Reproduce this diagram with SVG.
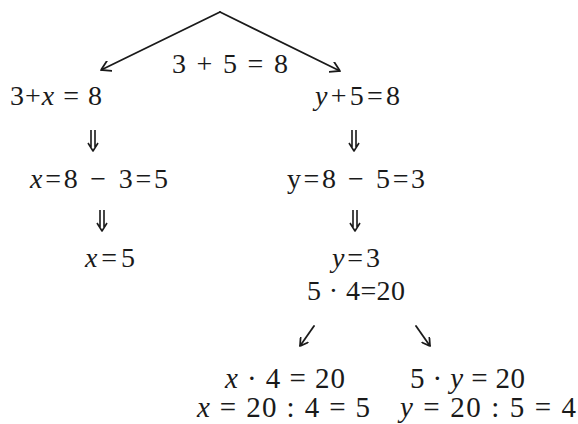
<svg xmlns="http://www.w3.org/2000/svg" xmlns:xlink="http://www.w3.org/1999/xlink" width="578" height="424" viewBox="0 0 578 424">
<style>
  text { font-family: 'Liberation Serif', 'DejaVu Serif', serif; font-size: 28px; fill: #1a1a1a; }
  .b { font-size: 29px; }
  .i { font-style: italic; }
  .ln { stroke: #1a1a1a; stroke-width: 1.8; fill: none; stroke-linecap: round; stroke-linejoin: round; }
</style>
<defs>
  <marker id="arr" viewBox="0 0 10 12" refX="10" refY="6" markerWidth="10" markerHeight="12" markerUnits="userSpaceOnUse" orient="auto">
    <path d="M0,0 L10,6 L0,12" fill="none" stroke="#1a1a1a" stroke-width="1.8"/>
  </marker>
  <marker id="arrs" viewBox="0 0 10 12" refX="10" refY="6" markerWidth="8" markerHeight="10" markerUnits="userSpaceOnUse" orient="auto">
    <path d="M0,0 L10,6 L0,12" fill="none" stroke="#1a1a1a" stroke-width="2.2"/>
  </marker>
  <path id="dbl" d="M-2,0 V17 M2,0 V17 M-5,13 L0,21 L5,13" fill="none" stroke="#1a1a1a" stroke-width="1.6" stroke-linejoin="round"/>
</defs>
<rect width="578" height="424" fill="#ffffff"/>

<g id="connectors">
  <line class="ln" x1="220" y1="12" x2="101" y2="70" marker-end="url(#arr)"/>
  <line class="ln" x1="220" y1="12" x2="340" y2="71" marker-end="url(#arr)"/>
  <use xlink:href="#dbl" x="93" y="130"/>
  <use xlink:href="#dbl" x="354" y="130"/>
  <use xlink:href="#dbl" x="102" y="210"/>
  <use xlink:href="#dbl" x="355" y="210"/>
  <line class="ln" x1="314" y1="326" x2="300" y2="346" marker-end="url(#arrs)"/>
  <line class="ln" x1="416" y1="326" x2="430" y2="346" marker-end="url(#arrs)"/>
</g>

<g id="root"><text x="172" y="73" textLength="116" lengthAdjust="spacing">3 + 5 = 8</text></g>
<g id="left1"><text x="10" y="105" textLength="92" lengthAdjust="spacing">3+<tspan class="i">x</tspan> = 8</text></g>
<g id="right1"><text x="315" y="105" textLength="85" lengthAdjust="spacing"><tspan class="i">y</tspan>+5=8</text></g>
<g id="left2"><text x="30" y="188" textLength="138" lengthAdjust="spacing"><tspan class="i">x</tspan>=8 − 3=5</text></g>
<g id="right2"><text x="287" y="188" textLength="138" lengthAdjust="spacing">y=8 − 5=3</text></g>
<g id="left3"><text x="85" y="267" textLength="50" lengthAdjust="spacing"><tspan class="i">x</tspan>=5</text></g>
<g id="right3"><text x="332" y="267" textLength="48" lengthAdjust="spacing"><tspan class="i">y</tspan>=3</text></g>
<g id="product"><text x="307" y="300" textLength="98" lengthAdjust="spacing">5 · 4=20</text></g>
<g id="left4">
  <text class="b" x="225" y="388" textLength="120" lengthAdjust="spacing"><tspan class="i">x</tspan> · 4 = 20</text>
  <text class="b" x="197" y="417" textLength="173" lengthAdjust="spacing"><tspan class="i">x</tspan> = 20 : 4 = 5</text>
</g>
<g id="right4">
  <text class="b" x="410" y="388" textLength="115" lengthAdjust="spacing">5 · <tspan class="i">y</tspan> = 20</text>
  <text class="b" x="400" y="417" textLength="176" lengthAdjust="spacing"><tspan class="i">y</tspan> = 20 : 5 = 4</text>
</g>
</svg>
